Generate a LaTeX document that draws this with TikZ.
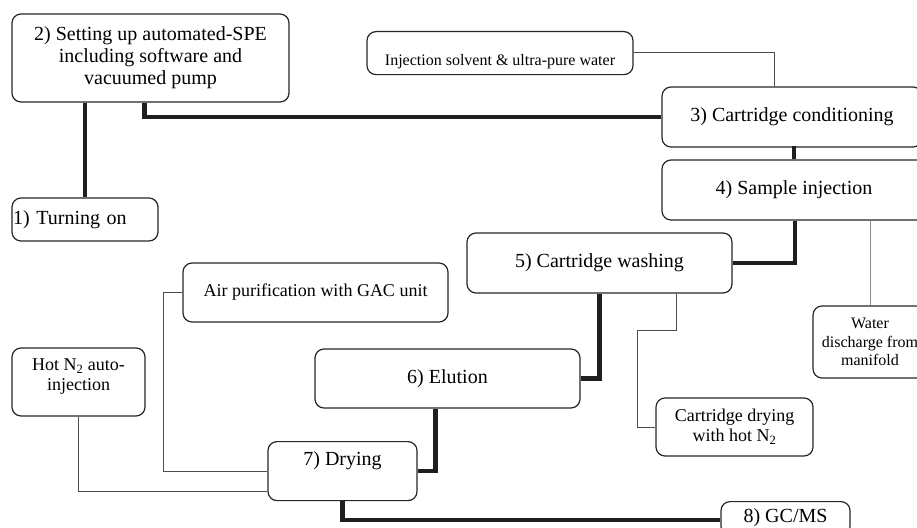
\documentclass[tikz,border=0pt]{standalone}
\usepackage{fontspec}
\setmainfont{Liberation Serif}
\begin{document}
\begin{tikzpicture}[x=1pt, y=-1pt,
  stage/.style={draw=black!85, line width=1.2pt, rounded corners=9pt, fill=white, align=center, inner sep=0pt, font=\fontsize{20}{22}\selectfont},
  aside/.style={stage, font=\fontsize{18}{20}\selectfont},
  small/.style={stage, font=\fontsize{16}{18.5}\selectfont},
  flow/.style={draw=black!88, line width=4.2pt},
  feed/.style={draw=black!70, line width=0.9pt},
  drain/.style={draw=black!45, line width=0.7pt}]
  \clip (0,0) rectangle (917,527);
  \node[stage, minimum width=277, minimum height=88] (set) at (150.5,58) {2) Setting up automated-SPE\\including software and\\vacuumed pump};
  \node[stage, minimum width=146, minimum height=43, text width=144, align=left, inner xsep=1pt] (on) at (85,219.5) {1) Turning on};
  \node[small, anchor=north, minimum width=266, text height=34, text depth=9] (inj) at (500,31) {Injection solvent \& ultra-pure water};
  \node[stage, minimum width=260, minimum height=60] (cond) at (792,117) {3) Cartridge conditioning};
  \node[stage, minimum width=264, minimum height=60] (samp) at (794,190) {4) Sample injection};
  \node[stage, minimum width=265, minimum height=60] (wash) at (599.5,263) {5) Cartridge washing};
  \node[small, minimum width=114, minimum height=72] (water) at (870,342) {Water\\discharge from\\manifold};
  \node[aside, minimum width=265, minimum height=59] (air) at (315.5,292.5) {Air purification with GAC unit};
  \node[stage, minimum width=265, minimum height=59] (elu) at (447.5,378.5) {6) Elution};
  \node[aside, minimum width=133, minimum height=68] (hot) at (78.5,382) {Hot N\textsubscript{2} auto-\\injection\\[-6pt]};
  \node[aside, minimum width=157, minimum height=58] (cdry) at (734.5,427) {Cartridge drying\\with hot N\textsubscript{2}};
  \node[stage, anchor=north, minimum width=149, text height=24, text depth=35] (dry) at (342.5,441) {7) Drying};
  \node[stage, anchor=north, minimum width=129, text height=20.5, text depth=13.5] (gcms) at (785.5,501) {8) GC/MS};

  \draw[flow] (on.north) -- (on.north |- set.south);
  \draw[flow] ([xshift=-6]set.south) |- (cond.west);
  \draw[flow] (cond.south) -- (cond.south -| samp.north) -- (samp.north);
  \draw[flow] ([xshift=1]samp.south) |- (wash.east);
  \draw[flow] (wash.south) |- (elu.east);
  \draw[flow] ([xshift=-12]elu.south) |- (dry.east);
  \draw[flow] (dry.south) |- ([yshift=-1.5]gcms.west);

  \draw[feed] (inj.east |- 0,52) -| ([xshift=-18]cond.north);
  \draw[drain] (water.north) -- (water.north |- samp.south);
  \draw[feed] ([xshift=77]wash.south) -- ++(0,37) -| ([xshift=-18]cdry.west) -- (cdry.west);
  \draw[feed] (air.west) -- ++(-19,0) |- (dry.west);
  \draw[feed] (hot.south) |- ([yshift=-20]dry.west);
\end{tikzpicture}
\end{document}
